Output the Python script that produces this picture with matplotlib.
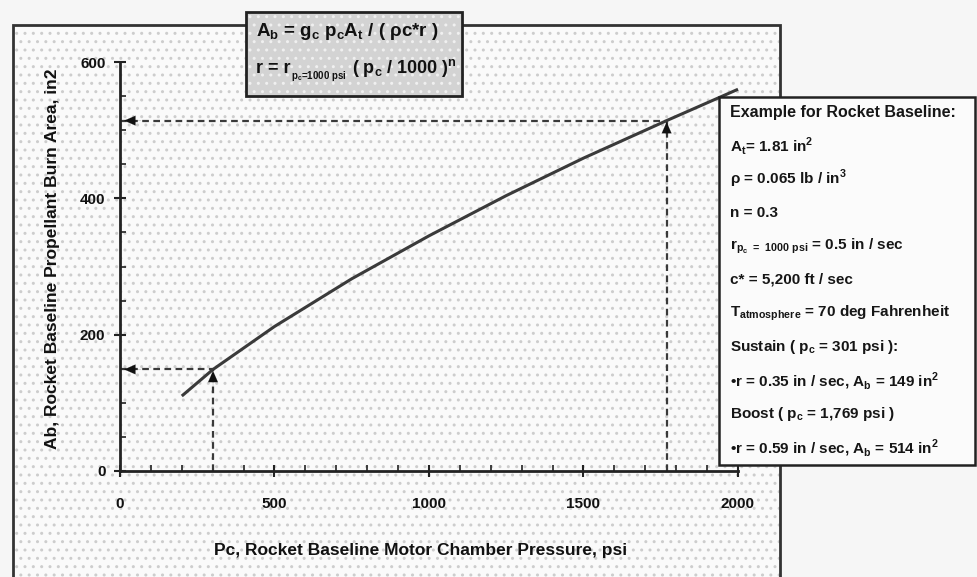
import matplotlib
matplotlib.use("Agg")
import matplotlib.pyplot as plt
from matplotlib.patches import Rectangle
from matplotlib.text import Annotation
from matplotlib.ticker import MultipleLocator

# ---- data -------------------------------------------------------------
chamber_pressure = [200, 301, 500, 750, 1000, 1250, 1500, 1769, 2000]   # psi
burn_area = [110, 149, 212, 282, 345, 404, 459, 514, 560]              # in^2

sustain_pc, sustain_ab = 301, 149
boost_pc, boost_ab = 1769, 514

x_ticks = [0, 500, 1000, 1500, 2000]
y_ticks = [0, 200, 400, 600]

x_label = "Pc, Rocket Baseline Motor Chamber Pressure, psi"
y_label = "Ab, Rocket Baseline Propellant Burn Area, in2"

formula_ab = r"A$_\mathregular{b}$ = g$_\mathregular{c}$ p$_\mathregular{c}$A$_\mathregular{t}$ / ( ρc*r )"
formula_r_parts = ["r = r", r"p$_\mathregular{c}$=1000 psi",
                   r" ( p$_\mathregular{c}$ / 1000 )$^\mathregular{n}$"]
example_lines = [
    "Example for Rocket Baseline:",
    r"A$_\mathregular{t}$= 1.81 in$^\mathregular{2}$",
    r"ρ = 0.065 lb / in$^\mathregular{3}$",
    "n = 0.3",
    r"r$_{\mathregular{p_c\ =\ 1000\ psi}}$ = 0.5 in / sec",
    "c* = 5,200 ft / sec",
    r"T$_\mathregular{atmosphere}$ = 70 deg Fahrenheit",
    r"Sustain ( p$_\mathregular{c}$ = 301 psi ):",
    r"•r = 0.35 in / sec, A$_\mathregular{b}$ = 149 in$^\mathregular{2}$",
    r"Boost ( p$_\mathregular{c}$ = 1,769 psi )",
    r"•r = 0.59 in / sec, A$_\mathregular{b}$ = 514 in$^\mathregular{2}$",
]

# ---- style ------------------------------------------------------------
plt.rcParams["font.family"] = ["Liberation Sans", "DejaVu Sans"]
plt.rcParams["mathtext.fontset"] = "custom"
plt.rcParams["mathtext.rm"] = "Liberation Sans:bold"
plt.rcParams["hatch.linewidth"] = 1.0

W, H = 978, 577
fig = plt.figure(figsize=(W / 100, H / 100), dpi=100, facecolor="#f6f6f6")


def px_rect(x0, y0, x1, y1, **kw):
    """Rectangle given in pixel coordinates (origin at top-left)."""
    return Rectangle((x0 / W, 1 - y1 / H), (x1 - x0) / W, (y1 - y0) / H,
                     transform=fig.transFigure, **kw)


# stippled outer panel
fig.patches.append(px_rect(13, 25, 780, 600, facecolor="#fafafa", edgecolor="none", zorder=0))
fig.patches.append(px_rect(13, 25, 780, 600, facecolor="none", edgecolor="#cdcdcd",
                           hatch="..", linewidth=0, zorder=0.1))
fig.patches.append(px_rect(13, 25, 780, 600, facecolor="none", edgecolor="#333333",
                           linewidth=2.0, zorder=0.2))

# plotting area
ax = fig.add_axes([120 / W, 1 - 471 / H, (738 - 120) / W, (471 - 62) / H])
ax.set_facecolor("none")
ax.set_zorder(1)
ax.set_xlim(0, 2000)
ax.set_ylim(0, 600)
for s in ("top", "right"):
    ax.spines[s].set_visible(False)
for s in ("left", "bottom"):
    ax.spines[s].set_linewidth(2.0)
    ax.spines[s].set_color("#222222")

ax.set_xticks(x_ticks)
ax.set_yticks(y_ticks)
ax.xaxis.set_minor_locator(MultipleLocator(100))
ax.yaxis.set_minor_locator(MultipleLocator(50))
ax.tick_params(which="major", direction="inout", length=9, width=1.5, color="#222222",
               labelsize=11, labelcolor="#111111")
ax.tick_params(which="minor", direction="in", length=4, width=1.2, color="#222222")
ax.tick_params(axis="x", which="major", pad=14)
ax.tick_params(axis="y", which="major", pad=6)
for lbl in ax.get_xticklabels() + ax.get_yticklabels():
    lbl.set_fontweight("bold")

ax.set_xlabel(x_label, fontsize=12.5, fontweight="bold", color="#111111")
ax.set_ylabel(y_label, fontsize=12.5, fontweight="bold", color="#111111")
ax.xaxis.set_label_coords(0.486, -0.176)
ax.yaxis.set_label_coords(-0.097, 0.52)

# burn-area curve
ax.plot(chamber_pressure, burn_area, color="#3a3a3a", lw=2.2, solid_capstyle="butt",
        clip_on=False, zorder=3)

# design-point guide lines with arrow heads
dash = (0, (3, 2))
head = "-|>,head_length=0.8,head_width=0.35"
for pc, ab in ((sustain_pc, sustain_ab), (boost_pc, boost_ab)):
    ax.plot([0, pc], [ab, ab], color="#3a3a3a", lw=1.6, ls=dash, zorder=2)
    ax.plot([pc, pc], [0, ab], color="#3a3a3a", lw=1.6, ls=dash, zorder=2)
    ax.annotate("", xy=(0, ab), xytext=(15, 0), textcoords="offset points",
                arrowprops=dict(arrowstyle=head, color="#111111", lw=0.1,
                                shrinkA=0, shrinkB=3))
    ax.annotate("", xy=(pc, ab), xytext=(0, -15), textcoords="offset points",
                arrowprops=dict(arrowstyle=head, color="#111111", lw=0.1,
                                shrinkA=0, shrinkB=1))

# formula box
fig.patches.append(px_rect(246, 12, 462, 96, facecolor="#d3d3d3", edgecolor="none", zorder=4))
fig.patches.append(px_rect(246, 12, 462, 96, facecolor="none", edgecolor="#f0f0f0",
                           hatch="..", linewidth=0, zorder=4.1))
fig.patches.append(px_rect(246, 12, 462, 96, facecolor="none", edgecolor="#222222",
                           linewidth=2.0, zorder=4.2))
fig.text(256 / W, 1 - 36 / H, formula_ab, fontsize=13.5, fontweight="bold",
         color="#111111", va="baseline", ha="left", zorder=5)

# second formula line built from pieces so the subscript can stay small
base_y = 1 - 73 / H
piece = fig.text(256 / W, base_y, formula_r_parts[0], fontsize=13, fontweight="bold",
                 color="#111111", va="baseline", ha="left", zorder=5)
sub = Annotation(formula_r_parts[1], xy=(1, base_y), xycoords=(piece, "figure fraction"),
                 xytext=(0.5, -4), textcoords="offset points", fontsize=7,
                 fontweight="bold", color="#111111", va="baseline", ha="left", zorder=5)
fig.add_artist(sub)
tail = Annotation(formula_r_parts[2], xy=(1, base_y), xycoords=(sub, "figure fraction"),
                  fontsize=13, fontweight="bold", color="#111111",
                  va="baseline", ha="left", zorder=5)
fig.add_artist(tail)

# worked-example box
fig.patches.append(px_rect(719, 97, 975, 465, facecolor="#fbfbfb", edgecolor="#222222",
                           linewidth=1.8, zorder=4))
for i, line in enumerate(example_lines):
    fig.text(730 / W, 1 - (112 + 33.6 * i) / H, line,
             fontsize=11.5 if i == 0 else 11, fontweight="bold",
             color="#161616", va="center", ha="left", zorder=5)

fig.savefig("out.png", dpi=100, facecolor=fig.get_facecolor())
